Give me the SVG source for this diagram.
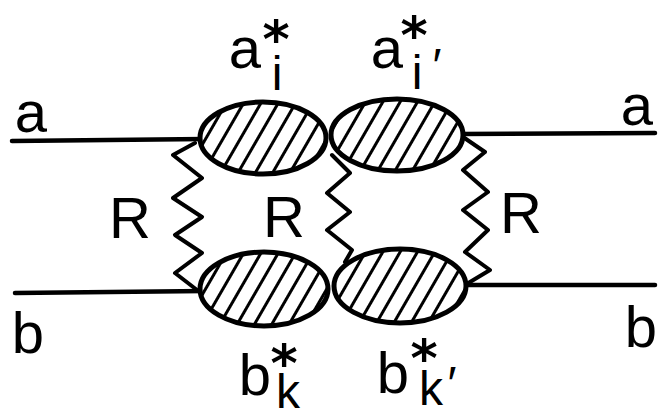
<svg xmlns="http://www.w3.org/2000/svg" width="664" height="419" viewBox="0 0 664 419">
<defs>
<style>
.ln{stroke:#000;stroke-width:4.5;fill:none;stroke-linecap:round}
.zz{stroke:#000;stroke-width:4;fill:none;stroke-linejoin:round;stroke-linecap:round}
.blob{fill:url(#hatch);stroke:#000;stroke-width:5}
.t{font-family:"Liberation Sans",Arial,sans-serif;font-size:58px;fill:#000;text-anchor:middle}
.s{font-family:"Liberation Sans",Arial,sans-serif;font-size:48px;fill:#000;text-anchor:middle}
.st{font-family:"DejaVu Sans",sans-serif;font-size:52px;font-weight:bold;fill:#000;text-anchor:middle}
</style>
<pattern id="hatch" width="15" height="15" patternUnits="userSpaceOnUse" patternTransform="rotate(30)">
<rect width="15" height="15" fill="#fff"/>
<line x1="7.5" y1="0" x2="7.5" y2="15" stroke="#000" stroke-width="3"/>
</pattern>
</defs>
<rect width="664" height="419" fill="#fff"/>
<g id="connectors">
<line class="ln" x1="12" y1="141" x2="205" y2="139"/>
<line class="ln" x1="460" y1="134" x2="655" y2="133"/>
<line class="ln" x1="15" y1="293" x2="205" y2="291"/>
<line class="ln" x1="460" y1="285" x2="655" y2="285"/>
<polyline class="zz" points="195,143 173,155 202,178 173,198 202,217 175,235 202,253 175,273 197,290"/>
<polyline class="zz" points="332,155 350,173 327,193 350,212 327,230 352,250 345,262"/>
<polyline class="zz" points="463,137 485,152 463,170 488,192 463,210 488,230 465,252 490,270 465,285"/>
</g>
<g id="node-ai">
<ellipse class="blob" cx="263" cy="138" rx="63" ry="36"/>
</g>
<g id="node-ai2">
<ellipse class="blob" cx="397" cy="135" rx="66" ry="36"/>
</g>
<g id="node-bk">
<ellipse class="blob" cx="264" cy="289" rx="64" ry="37"/>
</g>
<g id="node-bk2">
<ellipse class="blob" cx="400" cy="286" rx="66" ry="37"/>
</g>
<g id="labels">
<text class="t" x="31" y="132">a</text>
<text class="t" x="28" y="353">b</text>
<text class="t" x="637" y="125">a</text>
<text class="t" x="641" y="347">b</text>
<text class="t" x="130" y="238">R</text>
<text class="t" x="284" y="237">R</text>
<text class="t" x="521" y="233">R</text>
<text class="t" x="245" y="68">a</text>
<text class="st" x="276" y="57">*</text>
<text class="s" x="277" y="90">i</text>
<text class="t" x="387" y="68">a</text>
<text class="st" x="414" y="53">*</text>
<text class="s" x="417" y="89">i</text>
<text class="s" x="437" y="82">′</text>
<text class="t" x="255" y="395">b</text>
<text class="st" x="284" y="381">*</text>
<text class="s" x="288" y="408">k</text>
<text class="t" x="393" y="393">b</text>
<text class="st" x="424" y="376">*</text>
<text class="s" x="431" y="405">k</text>
<text class="s" x="452" y="400">′</text>
</g>
</svg>
